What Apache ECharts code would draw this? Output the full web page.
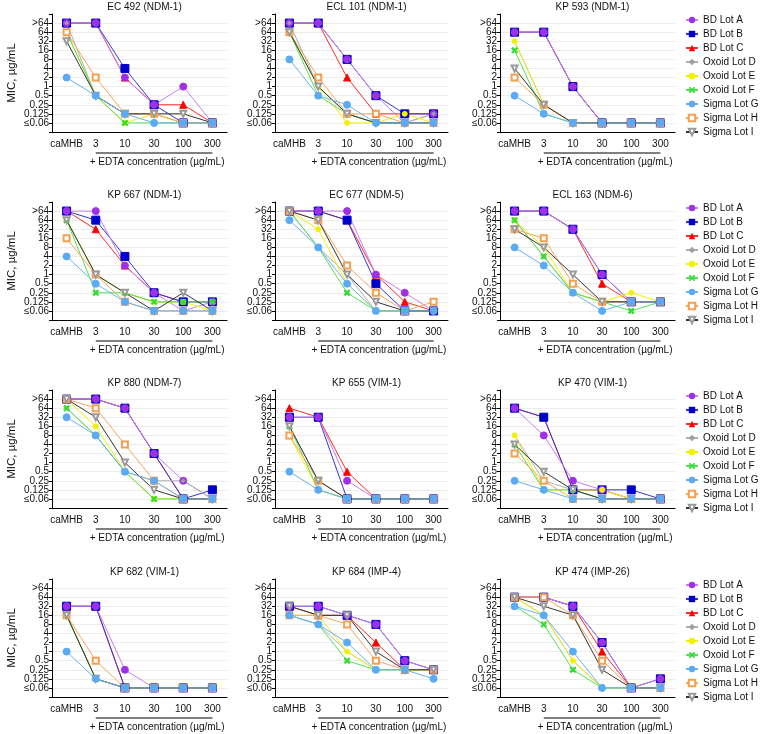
<!DOCTYPE html>
<html><head><meta charset="utf-8">
<script src="https://cdn.jsdelivr.net/npm/echarts@6/dist/echarts.min.js"></script>
<style>html,body{margin:0;padding:0;background:#fff}#c{width:760px;height:734px}</style>
</head><body><div id="c"></div>
<script>
const categories = ['caMHB','3','10','30','100','300'];
const yTickLabels = ['≤0.06','0.125','0.25','0.5','1','2','4','8','16','32','64','>64'];
const panelTitles = ['EC 492 (NDM-1)','ECL 101 (NDM-1)','KP 593 (NDM-1)','KP 667 (NDM-1)','EC 677 (NDM-5)','ECL 163 (NDM-6)','KP 880 (NDM-7)','KP 655 (VIM-1)','KP 470 (VIM-1)','KP 682 (VIM-1)','KP 684 (IMP-4)','KP 474 (IMP-26)'];
const seriesNames = ['BD Lot A','BD Lot B','BD Lot C','Oxoid Lot D','Oxoid Lot E','Oxoid Lot F','Sigma Lot G','Sigma Lot H','Sigma Lot I'];
// MIC values (µg/mL); 128 stands for ">64", 0.06 for "≤0.06"; one row per panel
const bdLotA = [
 [128,128,2,0.25,1,0.06],[128,128,8,0.5,0.06,0.125],[64,64,1,0.06,0.06,0.06],
 [128,128,2,0.25,0.06,0.125],[128,128,128,1,0.25,0.06],[128,128,32,1,0.125,0.125],
 [128,128,64,2,0.25,0.06],[32,32,0.25,0.06,0.06,0.06],[64,8,0.25,0.125,0.06,0.06],
 [32,32,0.25,0.06,0.06,0.06],[32,32,16,8,0.5,0.25],[64,64,32,2,0.06,0.125]];
const bdLotB = [
 [128,128,4,0.25,0.06,0.06],[128,128,8,0.5,0.125,0.125],[64,64,1,0.06,0.06,0.06],
 [128,64,4,0.25,0.125,0.125],[128,128,64,0.5,0.06,0.06],[128,128,32,1,0.125,0.125],
 [128,128,64,2,0.06,0.125],[32,32,0.06,0.06,0.06,0.06],[64,32,0.125,0.125,0.125,0.06],
 [32,32,0.06,0.06,0.06,0.06],[32,32,16,8,0.5,0.25],[64,64,32,2,0.06,0.125]];
const bdLotC = [
 [128,128,2,0.25,0.25,0.06],[128,128,2,0.125,0.125,0.125],[64,64,1,0.06,0.06,0.06],
 [128,32,2,0.25,0.125,0.125],[128,128,64,1,0.125,0.06],[128,128,32,0.5,0.125,0.125],
 [128,128,64,2,0.06,0.06],[64,32,0.5,0.06,0.06,0.06],[64,32,0.125,0.125,0.06,0.06],
 [32,32,0.06,0.06,0.06,0.06],[32,16,16,2,0.25,0.25],[64,64,32,1,0.06,0.06]];
const oxoidLotD = [
 [128,0.5,0.125,0.125,0.06,0.06],[128,1,0.125,0.06,0.06,0.125],[32,0.25,0.06,0.06,0.06,0.06],
 [64,1,0.25,0.125,0.125,0.125],[128,8,1,0.06,0.06,0.06],[64,4,0.25,0.125,0.125,0.125],
 [64,8,0.5,0.25,0.25,0.06],[16,0.25,0.06,0.06,0.06,0.06],[8,0.25,0.125,0.06,0.06,0.06],
 [16,0.125,0.06,0.06,0.06,0.06],[16,8,1,0.25,0.25,0.25],[64,16,0.5,0.06,0.06,0.06]];
const oxoidLotE = [
 [64,0.5,0.06,0.125,0.06,0.06],[64,1,0.06,0.06,0.125,0.06],[32,0.25,0.06,0.06,0.06,0.06],
 [64,1,0.25,0.125,0.125,0.06],[128,32,0.5,0.06,0.06,0.06],[64,8,0.25,0.125,0.25,0.125],
 [128,16,0.5,0.06,0.06,0.06],[8,0.125,0.06,0.06,0.06,0.06],[8,0.125,0.125,0.125,0.06,0.06],
 [16,0.125,0.06,0.06,0.06,0.06],[16,16,1,0.25,0.25,0.25],[64,16,0.5,0.06,0.06,0.06]];
const oxoidLotF = [
 [64,0.5,0.06,0.06,0.06,0.06],[64,0.5,0.125,0.06,0.06,0.06],[16,0.125,0.06,0.06,0.06,0.06],
 [64,0.25,0.25,0.125,0.125,0.125],[128,8,0.25,0.06,0.06,0.06],[64,4,0.25,0.125,0.06,0.125],
 [64,8,0.5,0.06,0.06,0.06],[16,0.125,0.06,0.06,0.06,0.06],[4,0.125,0.125,0.06,0.06,0.06],
 [16,0.125,0.06,0.06,0.06,0.06],[16,8,0.5,0.25,0.25,0.25],[32,8,0.25,0.06,0.06,0.06]];
const sigmaLotG = [
 [2,0.5,0.125,0.06,0.06,0.06],[8,0.5,0.25,0.06,0.06,0.06],[0.5,0.125,0.06,0.06,0.06,0.06],
 [4,0.5,0.125,0.06,0.06,0.06],[64,8,0.5,0.06,0.06,0.06],[8,2,0.25,0.06,0.125,0.125],
 [32,8,0.5,0.25,0.06,0.06],[0.5,0.125,0.06,0.06,0.06,0.06],[0.25,0.125,0.06,0.06,0.06,0.06],
 [1,0.125,0.06,0.06,0.06,0.06],[16,8,2,0.25,0.25,0.125],[32,16,1,0.06,0.06,0.06]];
const sigmaLotH = [
 [64,2,0.125,0.125,0.06,0.06],[64,2,0.125,0.125,0.06,0.06],[2,0.25,0.06,0.06,0.06,0.06],
 [16,1,0.125,0.06,0.06,0.06],[128,64,2,0.25,0.06,0.125],[32,16,0.5,0.125,0.125,0.125],
 [128,64,4,0.25,0.06,0.06],[8,0.25,0.06,0.06,0.06,0.06],[2,0.25,0.06,0.06,0.06,0.06],
 [16,0.5,0.06,0.06,0.06,0.06],[16,16,8,0.5,0.25,0.25],[64,64,16,0.5,0.06,0.06]];
const sigmaLotI = [
 [32,0.5,0.125,0.125,0.125,0.06],[64,1,0.125,0.06,0.06,0.06],[4,0.25,0.06,0.06,0.06,0.06],
 [64,1,0.25,0.06,0.25,0.06],[128,64,1,0.125,0.06,0.06],[32,8,1,0.125,0.125,0.125],
 [128,32,1,0.125,0.06,0.06],[16,0.25,0.06,0.06,0.06,0.06],[4,0.5,0.125,0.06,0.06,0.06],
 [16,0.125,0.06,0.06,0.06,0.06],[32,16,16,1,0.25,0.25],[64,32,16,0.25,0.06,0.06]];

const seriesData = [bdLotA,bdLotB,bdLotC,oxoidLotD,oxoidLotE,oxoidLotF,sigmaLotG,sigmaLotH,sigmaLotI];
// drawing order (bottom to top)
const drawOrder = [2,1,0,3,4,5,7,8,6];
const FONT = 'Liberation Sans, Arial, sans-serif';
const xPath = 'path://M2,0L5,3L8,0L10,2L7,5L10,8L8,10L5,7L2,10L0,8L3,5L0,2Z';
const styles = [
 {symbol:'circle', size:7, color:'#A030E8', line:'#C67FEE'},
 {symbol:'rect', size:8, color:'#0000CC', line:'#3333D6'},
 {symbol:'triangle', size:7, color:'#FF0000', line:'#FF2A2A'},
 {symbol:'diamond', size:4, color:'#A0A0A0', line:'#B0B0B0'},
 {symbol:'circle', size:5, color:'#F2F200', line:'#F0F000'},
 {symbol:xPath, size:6, color:'#33DD33', line:'#55E055'},
 {symbol:'circle', size:7, color:'#5AAAF5', line:'#6AB2F2'},
 {symbol:'emptyRect', size:6, color:'#F5A050', line:'#F5A55A'},
 {symbol:'emptyTriangle', size:6, color:'#9A9A9A', line:'#333333', rotate:180}
];
const colLeft = [52, 275, 500];
const colWidth = [175, 173, 175];
const rowTop = [14, 202, 390, 579];
const gridH = 118;
const toLevel = v => Math.round(Math.log2(v));

const grids = [], xAxes = [], yAxes = [], titles = [], series = [];
const splitColors = ['rgba(0,0,0,0)'].concat(Array(12).fill('#ECECEC')).concat(['rgba(0,0,0,0)']);
panelTitles.forEach((t, p) => {
  const r = Math.floor(p / 3), c = p % 3;
  grids.push({left: colLeft[c], top: rowTop[r], width: colWidth[c], height: gridH});
  titles.push({text: t, left: colLeft[c] + colWidth[c] / 2, top: rowTop[r] - 17, textAlign: 'center',
    textStyle: {fontSize: 10, fontWeight: 'normal', color: '#111', fontFamily: FONT}});
  xAxes.push({type: 'category', gridIndex: p, data: categories, boundaryGap: true,
    axisLine: {onZero: false, lineStyle: {color: '#000', width: 1}},
    axisTick: {alignWithLabel: true, length: 3, lineStyle: {color: '#000'}},
    axisLabel: {fontSize: 10, color: '#111', margin: 7, fontFamily: FONT, interval: 0}});
  yAxes.push({type: 'value', gridIndex: p, min: -5, max: 8, interval: 1,
    name: c === 0 ? 'MIC, µg/mL' : '', nameLocation: 'middle', nameRotate: 90, nameGap: 34,
    nameTextStyle: {fontSize: 11.5, color: '#111', fontFamily: FONT},
    axisLine: {show: true, onZero: false, lineStyle: {color: '#000', width: 1}},
    axisTick: {show: true, length: 3, lineStyle: {color: '#000'}},
    axisLabel: {fontSize: 10, color: '#111', margin: 3, fontFamily: FONT,
      formatter: v => { const i = v + 4; return (i >= 0 && i < yTickLabels.length) ? yTickLabels[i] : ''; }},
    splitLine: {show: true, lineStyle: {color: splitColors, width: 1}}});
  drawOrder.forEach(s => {
    const st = styles[s];
    series.push({type: 'line', name: seriesNames[s], xAxisIndex: p, yAxisIndex: p,
      data: seriesData[s][p].map(toLevel), symbol: st.symbol, symbolSize: st.size, symbolRotate: st.rotate || 0,
      showAllSymbol: true, animation: false,
      itemStyle: {color: st.color, borderColor: st.color},
      lineStyle: {color: st.line, width: 1}, emphasis: {disabled: true}});
  });
});
const legends = rowTop.map(t => ({orient: 'vertical', left: 685, top: t + 1, padding: 0, itemWidth: 12, itemHeight: 8, itemGap: 4,
  textStyle: {fontSize: 10, color: '#111', fontFamily: FONT}, data: seriesNames}));

const chart = echarts.init(document.getElementById('c'), null, {renderer: 'canvas'});
chart.setOption({animation: false, textStyle: {fontFamily: FONT}, title: titles, grid: grids,
  xAxis: xAxes, yAxis: yAxes, legend: legends, series: series});

const graphics = [];
panelTitles.forEach((t, p) => {
  const r = Math.floor(p / 3);
  const x1 = chart.convertToPixel({xAxisIndex: p}, 1);
  const x2 = chart.convertToPixel({xAxisIndex: p}, 5);
  const y = rowTop[r] + gridH + 21;
  graphics.push({type: 'line', shape: {x1: x1, y1: y, x2: x2, y2: y}, style: {stroke: '#000', lineWidth: 1.2}, silent: true});
  graphics.push({type: 'text', x: (x1 + x2) / 2 + 3, y: y + 4, silent: true,
    style: {text: '+ EDTA concentration (µg/mL)', align: 'center', verticalAlign: 'top', fontSize: 10, fill: '#111', fontFamily: FONT}});
});
chart.setOption({graphic: graphics});
</script></body></html>
